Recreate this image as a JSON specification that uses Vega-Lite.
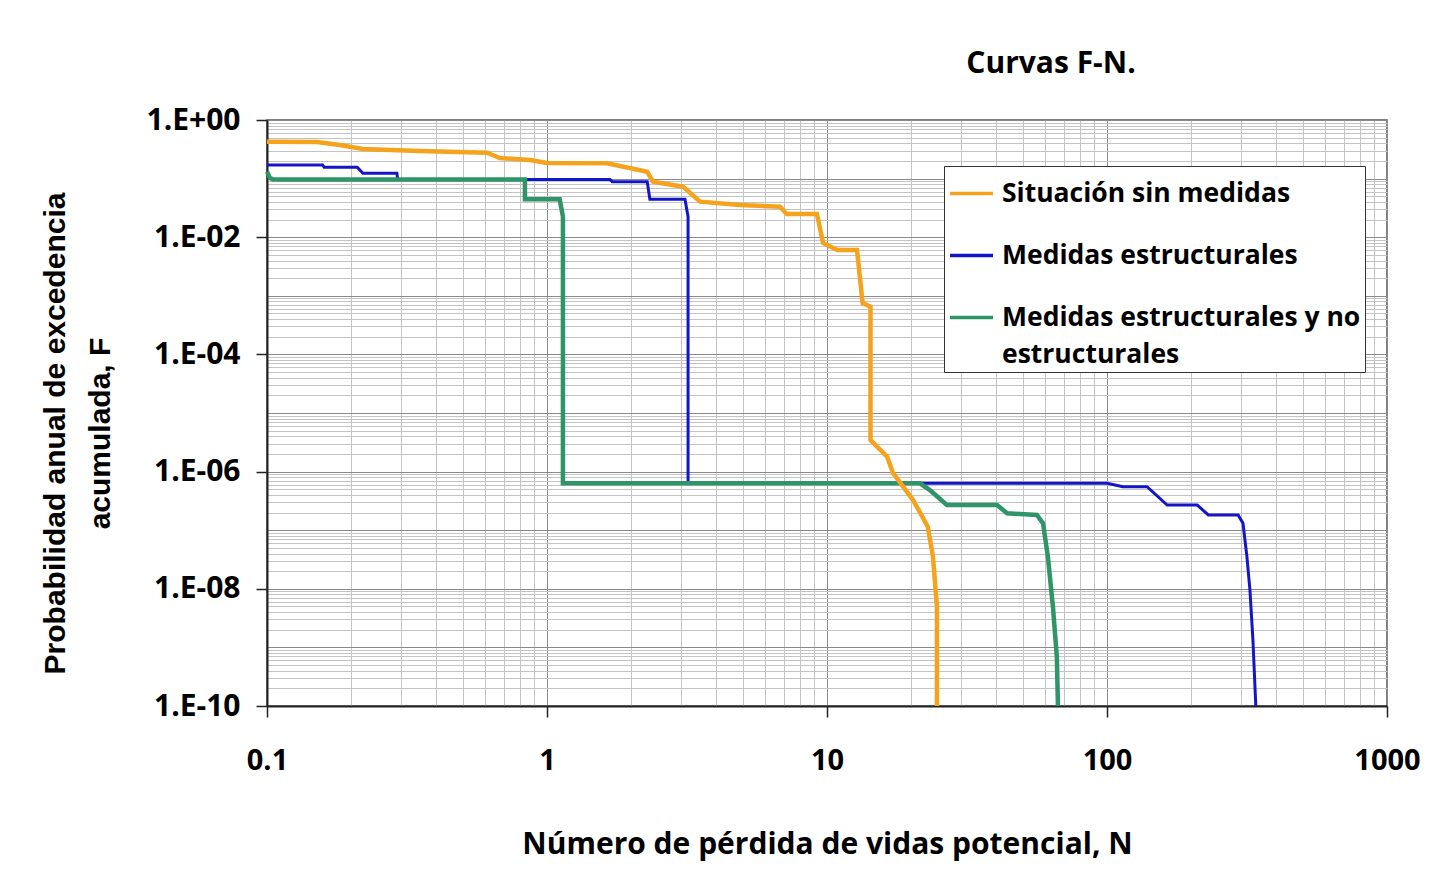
{
  "$schema": "https://vega.github.io/schema/vega-lite/v6.json",
  "width": 1120,
  "height": 586,
  "padding": {"left": 40, "top": 49, "right": 5, "bottom": 5},
  "background": "white",
  "title": {"text": "Curvas F-N.", "font": "Open Sans", "fontSize": 30, "fontWeight": "bold", "color": "#000000", "anchor": "middle", "dx": 224, "offset": 26},
  "data": {"values": [
    {"s": "Situación sin medidas", "N": 0.1, "F": 0.426},
    {"s": "Situación sin medidas", "N": 0.151, "F": 0.42},
    {"s": "Situación sin medidas", "N": 0.182, "F": 0.374},
    {"s": "Situación sin medidas", "N": 0.22, "F": 0.32},
    {"s": "Situación sin medidas", "N": 0.35, "F": 0.295},
    {"s": "Situación sin medidas", "N": 0.611, "F": 0.277},
    {"s": "Situación sin medidas", "N": 0.679, "F": 0.225},
    {"s": "Situación sin medidas", "N": 0.87, "F": 0.208},
    {"s": "Situación sin medidas", "N": 1.0, "F": 0.185},
    {"s": "Situación sin medidas", "N": 1.64, "F": 0.183},
    {"s": "Situación sin medidas", "N": 2.28, "F": 0.131},
    {"s": "Situación sin medidas", "N": 2.39, "F": 0.0885},
    {"s": "Situación sin medidas", "N": 3.06, "F": 0.0728},
    {"s": "Situación sin medidas", "N": 3.52, "F": 0.0404},
    {"s": "Situación sin medidas", "N": 4.89, "F": 0.0355},
    {"s": "Situación sin medidas", "N": 6.79, "F": 0.0331},
    {"s": "Situación sin medidas", "N": 7.19, "F": 0.0249},
    {"s": "Situación sin medidas", "N": 9.21, "F": 0.0249},
    {"s": "Situación sin medidas", "N": 9.68, "F": 0.00796},
    {"s": "Situación sin medidas", "N": 10.9, "F": 0.00605},
    {"s": "Situación sin medidas", "N": 12.8, "F": 0.00605},
    {"s": "Situación sin medidas", "N": 13.4, "F": 0.000754},
    {"s": "Situación sin medidas", "N": 14.3, "F": 0.000652},
    {"s": "Situación sin medidas", "N": 14.3, "F": 3.46e-6},
    {"s": "Situación sin medidas", "N": 16.4, "F": 1.8e-6},
    {"s": "Situación sin medidas", "N": 17.2, "F": 9.5e-7},
    {"s": "Situación sin medidas", "N": 20.3, "F": 3.27e-7},
    {"s": "Situación sin medidas", "N": 22.9, "F": 1.15e-7},
    {"s": "Situación sin medidas", "N": 23.9, "F": 3.55e-8},
    {"s": "Situación sin medidas", "N": 24.7, "F": 4.95e-9},
    {"s": "Situación sin medidas", "N": 24.7, "F": 1e-10},
    {"s": "Medidas estructurales", "N": 0.1, "F": 0.171},
    {"s": "Medidas estructurales", "N": 0.158, "F": 0.171},
    {"s": "Medidas estructurales", "N": 0.16, "F": 0.156},
    {"s": "Medidas estructurales", "N": 0.21, "F": 0.156},
    {"s": "Medidas estructurales", "N": 0.22, "F": 0.123},
    {"s": "Medidas estructurales", "N": 0.291, "F": 0.123},
    {"s": "Medidas estructurales", "N": 0.293, "F": 0.097},
    {"s": "Medidas estructurales", "N": 1.68, "F": 0.097},
    {"s": "Medidas estructurales", "N": 1.71, "F": 0.0885},
    {"s": "Medidas estructurales", "N": 2.28, "F": 0.0885},
    {"s": "Medidas estructurales", "N": 2.33, "F": 0.0443},
    {"s": "Medidas estructurales", "N": 3.11, "F": 0.0443},
    {"s": "Medidas estructurales", "N": 3.19, "F": 0.0224},
    {"s": "Medidas estructurales", "N": 3.19, "F": 6.3e-7},
    {"s": "Medidas estructurales", "N": 100, "F": 6.3e-7},
    {"s": "Medidas estructurales", "N": 114, "F": 5.52e-7},
    {"s": "Medidas estructurales", "N": 139, "F": 5.52e-7},
    {"s": "Medidas estructurales", "N": 164, "F": 2.69e-7},
    {"s": "Medidas estructurales", "N": 210, "F": 2.69e-7},
    {"s": "Medidas estructurales", "N": 230, "F": 1.82e-7},
    {"s": "Medidas estructurales", "N": 294, "F": 1.82e-7},
    {"s": "Medidas estructurales", "N": 306, "F": 1.31e-7},
    {"s": "Medidas estructurales", "N": 316, "F": 3.53e-8},
    {"s": "Medidas estructurales", "N": 324, "F": 9.5e-9},
    {"s": "Medidas estructurales", "N": 332, "F": 1.34e-9},
    {"s": "Medidas estructurales", "N": 340, "F": 1e-10},
    {"s": "Medidas estructurales y no estructurales", "N": 0.1, "F": 0.131},
    {"s": "Medidas estructurales y no estructurales", "N": 0.1025, "F": 0.102},
    {"s": "Medidas estructurales y no estructurales", "N": 0.105, "F": 0.097},
    {"s": "Medidas estructurales y no estructurales", "N": 0.834, "F": 0.097},
    {"s": "Medidas estructurales y no estructurales", "N": 0.834, "F": 0.0443},
    {"s": "Medidas estructurales y no estructurales", "N": 1.11, "F": 0.0443},
    {"s": "Medidas estructurales y no estructurales", "N": 1.14, "F": 0.0224},
    {"s": "Medidas estructurales y no estructurales", "N": 1.14, "F": 6.3e-7},
    {"s": "Medidas estructurales y no estructurales", "N": 21.5, "F": 6.3e-7},
    {"s": "Medidas estructurales y no estructurales", "N": 23.3, "F": 4.85e-7},
    {"s": "Medidas estructurales y no estructurales", "N": 26.8, "F": 2.69e-7},
    {"s": "Medidas estructurales y no estructurales", "N": 40.5, "F": 2.69e-7},
    {"s": "Medidas estructurales y no estructurales", "N": 44, "F": 1.94e-7},
    {"s": "Medidas estructurales y no estructurales", "N": 56.2, "F": 1.82e-7},
    {"s": "Medidas estructurales y no estructurales", "N": 59.1, "F": 1.31e-7},
    {"s": "Medidas estructurales y no estructurales", "N": 61.5, "F": 3.53e-8},
    {"s": "Medidas estructurales y no estructurales", "N": 64.1, "F": 4.95e-9},
    {"s": "Medidas estructurales y no estructurales", "N": 66.2, "F": 6.9e-10},
    {"s": "Medidas estructurales y no estructurales", "N": 66.8, "F": 1e-10}
  ]},
  "encoding": {
    "color": {
      "field": "s", "type": "nominal",
      "scale": {"domain": ["Situación sin medidas", "Medidas estructurales", "Medidas estructurales y no estructurales"], "range": ["#F5A21C", "#1515C8", "#2F9467"]},
      "legend": {
        "title": null, "orient": "none", "legendX": 677, "legendY": 46,
        "fillColor": "white", "strokeColor": "#333333", "padding": 4,
        "symbolType": "stroke", "symbolSize": 1849, "symbolStrokeWidth": 3.5,
        "labelFont": "Open Sans", "labelFontSize": 26.5, "labelFontWeight": "bold", "labelColor": "#000000",
        "labelLimit": 600, "labelOffset": 7, "rowPadding": 25,
        "labelExpr": "datum.label == 'Medidas estructurales y no estructurales' ? ['Medidas estructurales y no', 'estructurales'] : datum.label",
        "encode": {"labels": {"update": {"lineHeight": {"value": 37}}}}
      }
    }
  },
  "layer": [
    {
      "transform": [{"filter": "datum.s == 'Medidas estructurales'"}],
      "mark": {"type": "line", "strokeWidth": 3},
      "encoding": {
        "x": {"field": "N", "type": "quantitative", "scale": {"type": "log", "domain": [0.1, 1000], "nice": false},
          "axis": {"orient": "bottom", "values": [0.2,0.3,0.4,0.5,0.6,0.7,0.8,0.9,2,3,4,5,6,7,8,9,20,30,40,50,60,70,80,90,200,300,400,500,600,700,800,900], "grid": true, "gridColor": "#c4c4c4", "gridWidth": 1, "labels": false, "ticks": false, "domain": false, "title": null}},
        "y": {"field": "F", "type": "quantitative", "scale": {"type": "log", "domain": [1e-10, 1], "nice": false},
          "axis": {"orient": "left", "values": [2e-10,3e-10,4e-10,5e-10,6e-10,7e-10,8e-10,9e-10,2e-9,3e-9,4e-9,5e-9,6e-9,7e-9,8e-9,9e-9,2e-8,3e-8,4e-8,5e-8,6e-8,7e-8,8e-8,9e-8,2e-7,3e-7,4e-7,5e-7,6e-7,7e-7,8e-7,9e-7,2e-6,3e-6,4e-6,5e-6,6e-6,7e-6,8e-6,9e-6,2e-5,3e-5,4e-5,5e-5,6e-5,7e-5,8e-5,9e-5,2e-4,3e-4,4e-4,5e-4,6e-4,7e-4,8e-4,9e-4,0.002,0.003,0.004,0.005,0.006,0.007,0.008,0.009,0.02,0.03,0.04,0.05,0.06,0.07,0.08,0.09,0.2,0.3,0.4,0.5,0.6,0.7,0.8,0.9], "grid": true, "gridColor": "#c4c4c4", "gridWidth": 1, "labels": false, "ticks": false, "domain": false, "title": null}},
        "order": {"value": null}
      }
    },
    {
      "transform": [{"filter": "datum.s == 'Medidas estructurales y no estructurales'"}],
      "mark": {"type": "line", "strokeWidth": 4.5},
      "encoding": {
        "x": {"field": "N", "type": "quantitative", "scale": {"type": "log", "domain": [0.1, 1000], "nice": false},
          "axis": {"orient": "bottom", "values": [0.1, 1, 10, 100, 1000], "grid": true, "gridColor": "#8a8a8a", "gridWidth": 1, "labels": false, "ticks": false, "domain": false, "title": null}},
        "y": {"field": "F", "type": "quantitative", "scale": {"type": "log", "domain": [1e-10, 1], "nice": false},
          "axis": {"orient": "left", "values": [1e-10,1e-9,1e-8,1e-7,1e-6,1e-5,1e-4,1e-3,1e-2,1e-1,1], "grid": true, "gridColor": "#8a8a8a", "gridWidth": 1, "labels": false, "ticks": false, "domain": false, "title": null}},
        "order": {"value": null}
      }
    },
    {
      "transform": [{"filter": "datum.s == 'Situación sin medidas'"}],
      "mark": {"type": "line", "strokeWidth": 4.5},
      "encoding": {
        "x": {"field": "N", "type": "quantitative", "scale": {"type": "log", "domain": [0.1, 1000], "nice": false},
          "axis": {"orient": "bottom", "values": [0.1, 1, 10, 100, 1000], "format": "~g", "grid": false, "labelFlush": false,
            "ticks": true, "tickSize": 11, "tickColor": "#222222", "tickWidth": 1.5,
            "domain": true, "domainColor": "#222222", "domainWidth": 2,
            "labelFont": "Open Sans", "labelFontSize": 29, "labelFontWeight": "bold", "labelColor": "#000000", "labelPadding": 29,
            "title": "Número de pérdida de vidas potencial, N", "titleFont": "Open Sans", "titleFontSize": 30, "titleFontWeight": "bold", "titleColor": "#000000", "titlePadding": 54}},
        "y": {"field": "F", "type": "quantitative", "scale": {"type": "log", "domain": [1e-10, 1], "nice": false},
          "axis": {"orient": "left", "values": [1e-10, 1e-8, 1e-6, 1e-4, 1e-2, 1], "grid": false, "labelFlush": false,
            "labelExpr": "datum.value >= 1 ? '1.E+00' : '1.E-' + (round(-log(datum.value)/LN10) < 10 ? '0' : '') + round(-log(datum.value)/LN10)",
            "ticks": true, "tickSize": 11, "tickColor": "#222222", "tickWidth": 1.5,
            "domain": true, "domainColor": "#222222", "domainWidth": 2,
            "labelFont": "Open Sans", "labelFontSize": 30, "labelFontWeight": "bold", "labelColor": "#000000", "labelPadding": 16,
            "title": ["Probabilidad anual de excedencia", "acumulada, F"], "titleFont": "Liberation Sans", "titleFontSize": 30, "titleFontWeight": "bold", "titleColor": "#000000", "titleLineHeight": 45, "titlePadding": 31, "titleY": 313}},
        "order": {"value": null}
      }
    }
  ],
  "resolve": {"axis": {"x": "independent", "y": "independent"}},
  "config": {
    "view": {"stroke": "#555555", "strokeWidth": 1.5}
  }
}
